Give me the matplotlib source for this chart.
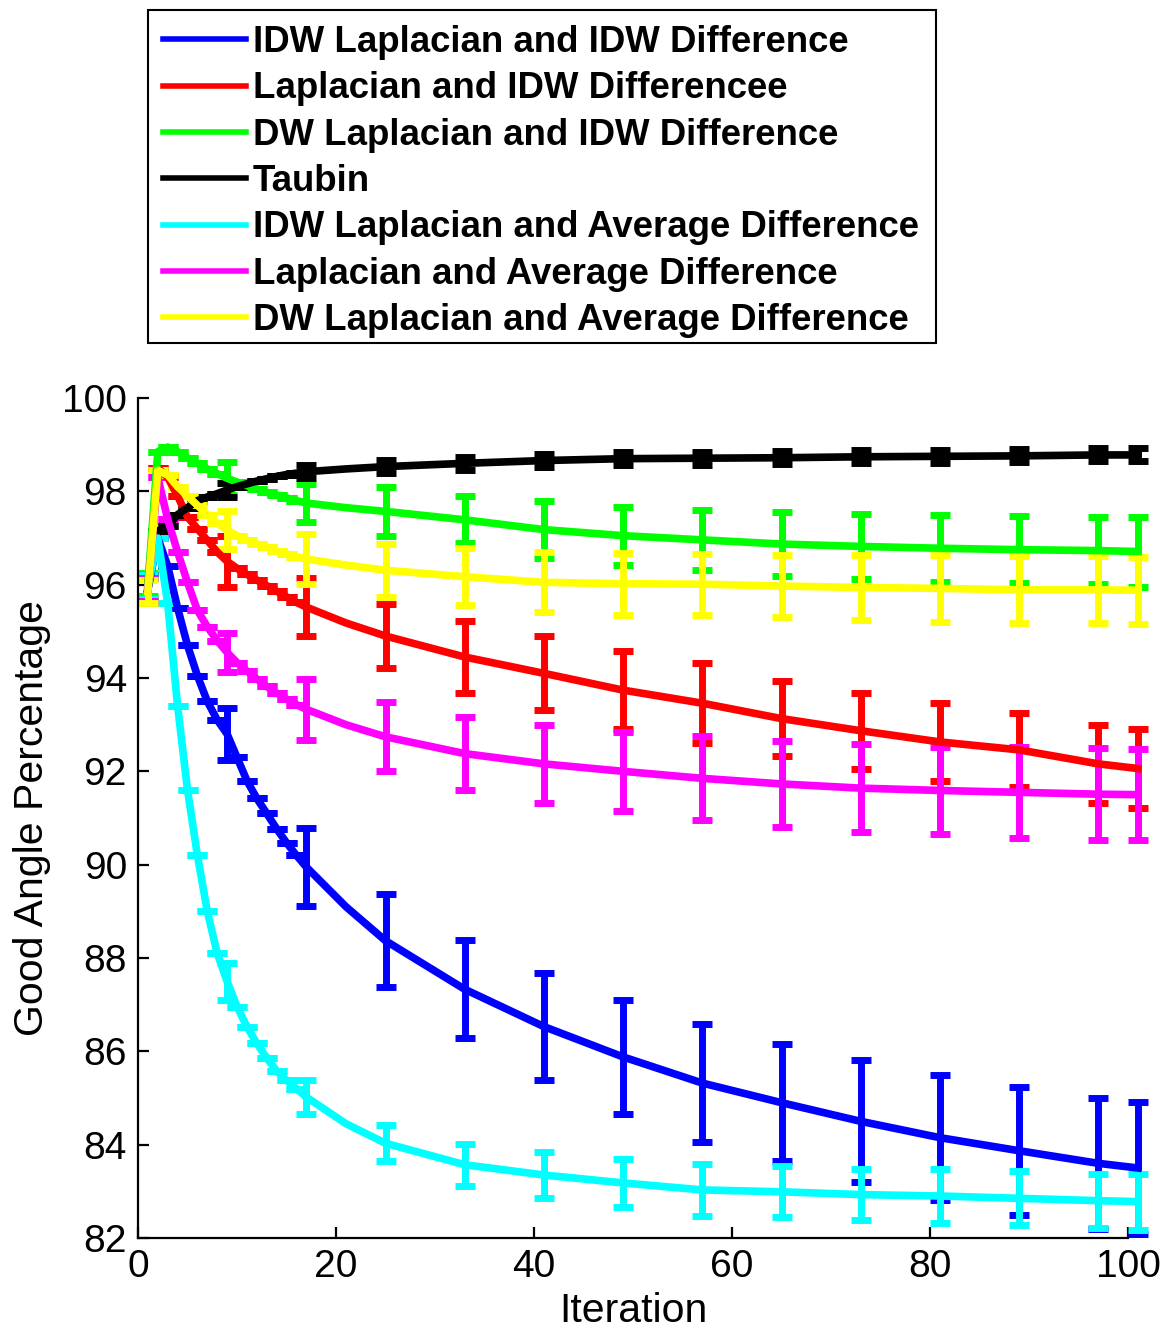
import math
import matplotlib
matplotlib.use("Agg")
import matplotlib.pyplot as plt
from matplotlib.patches import Rectangle

plt.rcParams["font.family"] = ["Liberation Sans", "DejaVu Sans"]

# Iterations at which the mean curves are sampled
iterations = [1, 2, 3, 4, 5, 6, 7, 8, 9, 10, 11, 12, 13, 14, 15, 16, 17,
              21, 25, 33, 41, 49, 57, 65, 73, 81, 89, 97, 101]
# Iterations that carry a standard-deviation bar
bar_iterations = [1, 9, 17, 25, 33, 41, 49, 57, 65, 73, 81, 89, 97, 101]
# Iterations drawn with a flat cap only (zero spread)
capped_iterations = list(range(1, 18)) + bar_iterations

labels = [
    "IDW Laplacian and IDW Difference",
    "Laplacian and IDW Differencee",
    "DW Laplacian and IDW Difference",
    "Taubin",
    "IDW Laplacian and Average Difference",
    "Laplacian and Average Difference",
    "DW Laplacian and Average Difference",
]
colors = ["#0000ff", "#ff0000", "#00ff00", "#000000", "#00ffff", "#ff00ff", "#ffff00"]

idw_lap_idw_diff = [95.9, 97.0, 96.4, 95.5, 94.7, 94.05, 93.5, 93.1, 92.8, 92.3, 91.8, 91.42,
                    91.1, 90.77, 90.47, 90.2, 89.95, 89.1, 88.37, 87.33, 86.53, 85.88, 85.32,
                    84.9, 84.5, 84.15, 83.87, 83.6, 83.5]
lap_idw_diff = [95.95, 98.5, 98.3, 97.9, 97.45, 97.2, 96.95, 96.7, 96.5, 96.35, 96.22, 96.1,
                95.98, 95.86, 95.74, 95.62, 95.52, 95.18, 94.9, 94.45, 94.1, 93.74, 93.46,
                93.13, 92.87, 92.63, 92.46, 92.16, 92.06]
dw_lap_idw_diff = [96.0, 98.85, 98.95, 98.85, 98.72, 98.6, 98.48, 98.38, 98.28, 98.2, 98.12,
                   98.05, 97.98, 97.92, 97.86, 97.8, 97.75, 97.65, 97.57, 97.39, 97.18, 97.05,
                   96.96, 96.87, 96.82, 96.78, 96.75, 96.73, 96.71]
taubin = [95.9, 97.15, 97.25, 97.5, 97.65, 97.8, 97.88, 97.95, 98.03, 98.1, 98.16, 98.22,
          98.27, 98.32, 98.36, 98.39, 98.42, 98.48, 98.53, 98.6, 98.66, 98.7, 98.71, 98.72,
          98.74, 98.75, 98.76, 98.78, 98.78]
idw_lap_avg_diff = [95.95, 97.0, 95.6, 93.4, 91.6, 90.2, 89.0, 88.1, 87.5, 86.96, 86.53, 86.17,
                    85.86, 85.58, 85.38, 85.2, 85.02, 84.45, 84.03, 83.57, 83.35, 83.18, 83.03,
                    82.99, 82.93, 82.9, 82.85, 82.8, 82.78]
lap_avg_diff = [95.9, 98.3, 97.4, 96.7, 96.05, 95.45, 95.1, 94.8, 94.55, 94.33, 94.15, 93.98,
                93.82, 93.68, 93.55, 93.43, 93.33, 93.0, 92.74, 92.38, 92.16, 92.0, 91.85,
                91.73, 91.64, 91.59, 91.55, 91.51, 91.5]
dw_lap_avg_diff = [95.85, 98.45, 98.35, 98.1, 97.9, 97.7, 97.5, 97.32, 97.17, 97.05, 96.95,
                   96.87, 96.8, 96.72, 96.66, 96.6, 96.55, 96.42, 96.31, 96.17, 96.05, 96.02,
                   96.01, 95.97, 95.94, 95.92, 95.89, 95.89, 95.88]

# Standard deviations at bar_iterations
idw_lap_idw_std = [0.25, 0.55, 0.84, 1.0, 1.05, 1.15, 1.23, 1.27, 1.26, 1.31, 1.34, 1.37, 1.4, 1.42]
lap_idw_std = [0.25, 0.55, 0.62, 0.69, 0.77, 0.79, 0.83, 0.86, 0.81, 0.81, 0.84, 0.8, 0.83, 0.84]
dw_lap_idw_std = [0.25, 0.35, 0.4, 0.53, 0.5, 0.61, 0.62, 0.65, 0.68, 0.7, 0.72, 0.72, 0.72, 0.75]
taubin_std = [0.3, 0.15, 0.14, 0.14, 0.14, 0.14, 0.14, 0.14, 0.14, 0.14, 0.14, 0.14, 0.14, 0.14]
idw_lap_avg_std = [0.25, 0.4, 0.37, 0.39, 0.45, 0.49, 0.52, 0.56, 0.55, 0.55, 0.58, 0.58, 0.58, 0.6]
lap_avg_std = [0.25, 0.42, 0.65, 0.74, 0.79, 0.84, 0.84, 0.9, 0.92, 0.95, 0.94, 0.98, 0.98, 0.98]
dw_lap_avg_std = [0.25, 0.4, 0.53, 0.57, 0.61, 0.64, 0.66, 0.65, 0.66, 0.69, 0.71, 0.72, 0.72, 0.72]

series = [idw_lap_idw_diff, lap_idw_diff, dw_lap_idw_diff, taubin,
          idw_lap_avg_diff, lap_avg_diff, dw_lap_avg_diff]
stds = [idw_lap_idw_std, lap_idw_std, dw_lap_idw_std, taubin_std,
        idw_lap_avg_std, lap_avg_std, dw_lap_avg_std]

W, H = 1163, 1331
fig = plt.figure(figsize=(W / 100, H / 100), dpi=100)
ax = fig.add_axes([138 / W, 1 - 1238 / H, (1128 - 138) / W, (1238 - 398) / H])

handles = []
for vals, sd, col, lab in zip(series, stds, colors, labels):
    sd_map = dict(zip(bar_iterations, sd))
    yerr = [sd_map.get(it, 0.0 if it in capped_iterations else math.nan)
            for it in iterations]
    cont = ax.errorbar(iterations, vals, yerr=yerr, color=col, lw=5.5, elinewidth=5,
                       capsize=7.2, capthick=5, label=lab)
    line, caps, bars = cont.lines
    line.set_clip_on(False)
    for a in list(caps) + list(bars):
        a.set_clip_on(False)
    handles.append(line)

ax.set_xlim(0, 100)
ax.set_ylim(82, 100)
ax.set_xticks(range(0, 101, 20))
ax.set_yticks(range(82, 101, 2))
ax.spines["top"].set_visible(False)
ax.spines["right"].set_visible(False)
for s in ("left", "bottom"):
    ax.spines[s].set_linewidth(1.6)
ax.tick_params(direction="in", length=8, width=1.6, labelsize=28, pad=8)
ax.set_xlabel("Iteration", fontsize=29.5, labelpad=5)
ax.set_ylabel("Good Angle Percentage", fontsize=29.5, labelpad=8)

# Legend entries, with a separately drawn frame around them
leg = fig.legend(handles, labels, loc="upper left",
                 bbox_to_anchor=(163 / W, 1 - 25 / H), borderaxespad=0,
                 prop={"weight": "bold", "size": 26.4}, handlelength=2.25,
                 handletextpad=0.2, labelspacing=0.31, borderpad=0,
                 frameon=False)
for lh in leg.get_lines():
    lh.set_linewidth(4)
fig.add_artist(Rectangle((148 / W, 1 - 343 / H), (936 - 148) / W, (343 - 10) / H,
                         transform=fig.transFigure, fill=False, lw=1.5,
                         edgecolor="black"))

fig.savefig("out.png", dpi=100)
